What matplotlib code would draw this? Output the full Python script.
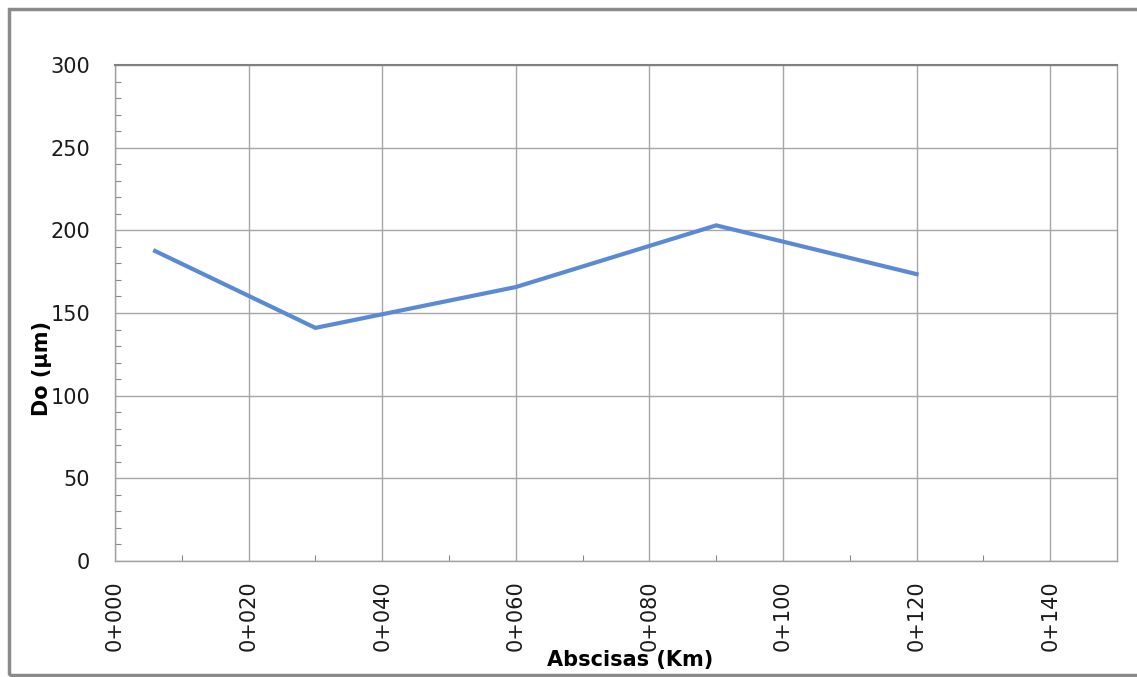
import matplotlib
matplotlib.use("Agg")
import matplotlib.pyplot as plt
from matplotlib.ticker import MultipleLocator, FixedLocator
from matplotlib.patches import Rectangle

# Data
abscisas = [6, 30, 60, 90, 120]
do_um = [187.5, 141, 165.7, 203, 173.5]
xtick_vals = [0, 20, 40, 60, 80, 100, 120, 140]
xtick_labels = ["0+000", "0+020", "0+040", "0+060", "0+080", "0+100", "0+120", "0+140"]
ytick_vals = [0, 50, 100, 150, 200, 250, 300]

W, H = 1137, 677
fig = plt.figure(figsize=(W / 100, H / 100), dpi=100)
fig.patch.set_facecolor("white")

# outer frame
fig.patches.append(Rectangle((9 / W, 1 - 675 / H), 1.2, (675 - 9) / H,
                             transform=fig.transFigure, fill=False,
                             edgecolor="#8a8a8a", linewidth=2.5))

ax = fig.add_axes([115 / W, 1 - 561 / H, (1117 - 115) / W, (561 - 65) / H])
ax.plot(abscisas, do_um, color="#5a8ad5", linewidth=3.0, solid_joinstyle="miter", zorder=3)

ax.set_xlim(0, 150)
ax.set_ylim(0, 300)
ax.xaxis.set_major_locator(FixedLocator(xtick_vals))
ax.set_xticklabels(xtick_labels, rotation=90)
ax.xaxis.set_minor_locator(FixedLocator([10, 30, 50, 70, 90, 110, 130]))
ax.set_yticks(ytick_vals)
ax.yaxis.set_minor_locator(MultipleLocator(10))

ax.grid(True, which="major", color="#a6a6a6", linewidth=1.0)
ax.set_axisbelow(True)
ax.tick_params(which="major", length=0, labelsize=15, labelcolor="#1a1a1a")
ax.tick_params(axis="y", which="major", pad=18)
ax.tick_params(axis="x", which="major", pad=14)
ax.tick_params(which="minor", direction="in", length=4, color="#888888", width=0.8)

for side in ["left", "bottom", "right", "top"]:
    ax.spines[side].set_color("#a0a0a0")
    ax.spines[side].set_linewidth(1.0)
ax.spines["top"].set_color("#808080")
ax.spines["top"].set_linewidth(1.5)

ax.set_xlabel("Abscisas (Km)", fontsize=15, fontweight="bold", va="center")
ax.xaxis.set_label_coords((630 - 115) / (1117 - 115), -(660 - 561) / (561 - 65))
ax.set_ylabel("Do (µm)", fontsize=15, fontweight="bold", va="center")
ax.yaxis.set_label_coords(-(115 - 42) / (1117 - 115), (561 - 368) / (561 - 65))

fig.savefig("out.png", dpi=100, facecolor="white")
